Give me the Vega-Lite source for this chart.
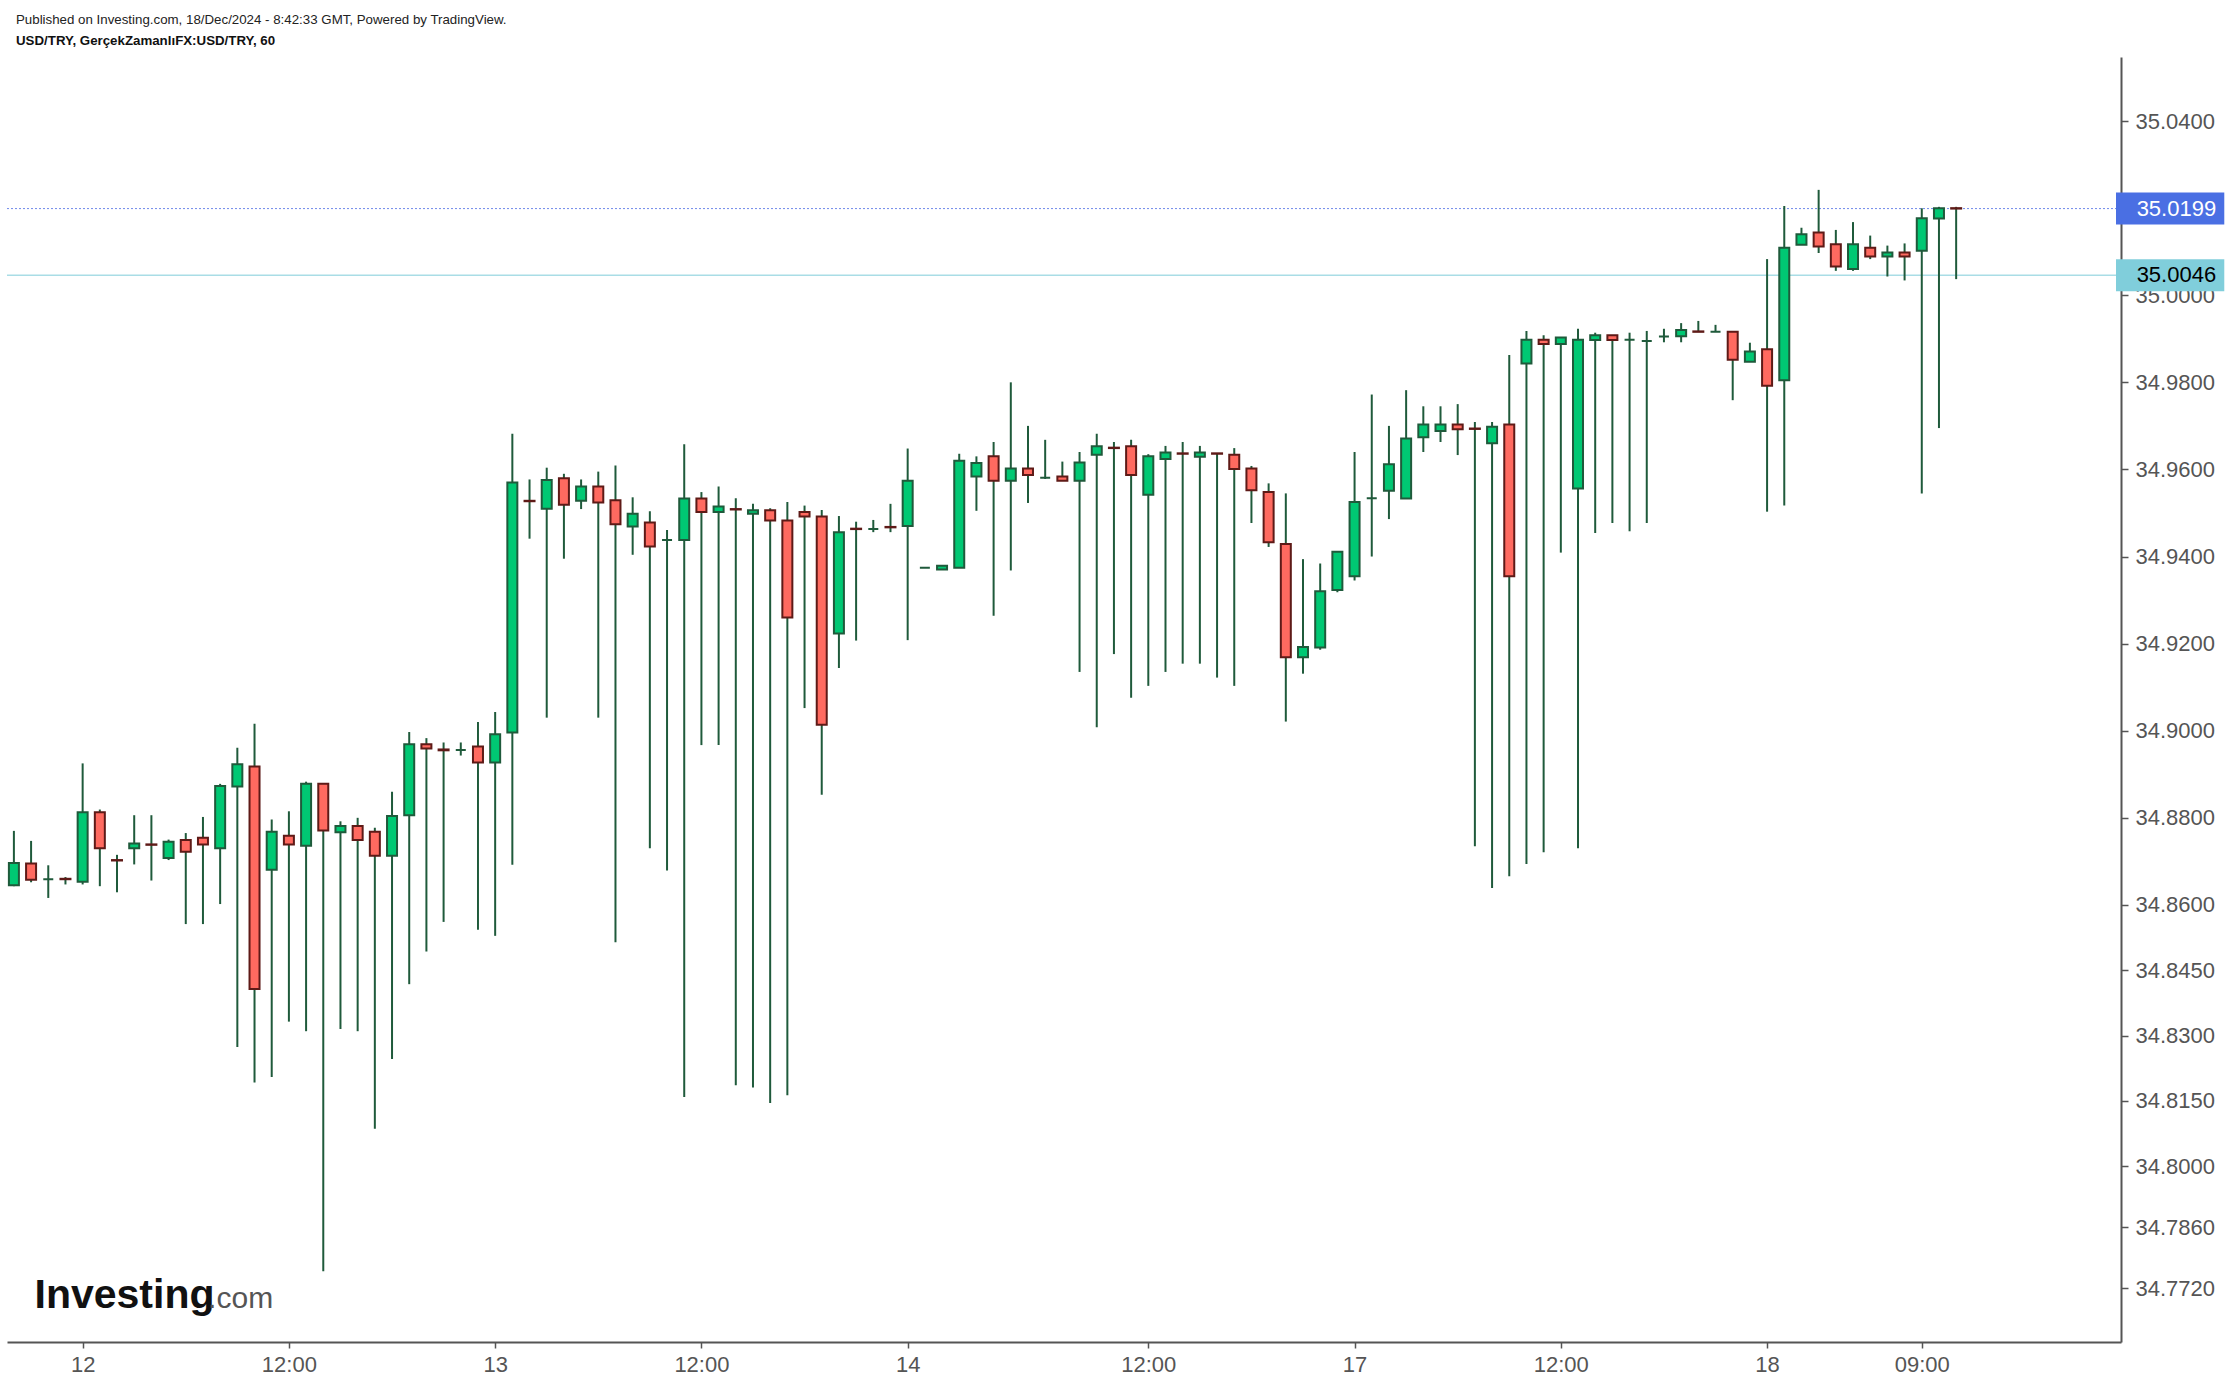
{
  "$schema": "https://vega.github.io/schema/vega-lite/v6.json",
  "width": 2114,
  "height": 1285,
  "autosize": {"type": "none"},
  "padding": {"left": 7, "top": 57, "right": 109, "bottom": 44},
  "background": "white",
  "config": {"view": {"stroke": null}, "font": "Liberation Sans"},
  "title": {
    "text": "Published on Investing.com, 18/Dec/2024 - 8:42:33 GMT, Powered by TradingView.",
    "subtitle": "USD/TRY, GerçekZamanlıFX:USD/TRY, 60",
    "anchor": "start",
    "frame": "group",
    "font": "Liberation Sans",
    "fontSize": 13.3,
    "fontWeight": "normal",
    "color": "#222222",
    "subtitleFont": "Liberation Sans",
    "subtitleFontSize": 13.3,
    "subtitleFontWeight": "bold",
    "subtitleColor": "#111111",
    "subtitlePadding": 7.5,
    "offset": 10,
    "dx": 9
  },
  "datasets": {
    "candles": [
      {"i":0,"o":34.8645,"h":34.8770,"l":34.8643,"c":34.8696},
      {"i":1,"o":34.8695,"h":34.8747,"l":34.8652,"c":34.8658},
      {"i":2,"o":34.8659,"h":34.8691,"l":34.8616,"c":34.8659},
      {"i":3,"o":34.8660,"h":34.8664,"l":34.8647,"c":34.8659},
      {"i":4,"o":34.8653,"h":34.8925,"l":34.8647,"c":34.8813},
      {"i":5,"o":34.8813,"h":34.8819,"l":34.8643,"c":34.8730},
      {"i":6,"o":34.8703,"h":34.8715,"l":34.8629,"c":34.8702},
      {"i":7,"o":34.8730,"h":34.8806,"l":34.8693,"c":34.8741},
      {"i":8,"o":34.8739,"h":34.8806,"l":34.8656,"c":34.8738},
      {"i":9,"o":34.8708,"h":34.8750,"l":34.8703,"c":34.8745},
      {"i":10,"o":34.8749,"h":34.8765,"l":34.8556,"c":34.8722},
      {"i":11,"o":34.8754,"h":34.8802,"l":34.8556,"c":34.8739},
      {"i":12,"o":34.8730,"h":34.8878,"l":34.8602,"c":34.8873},
      {"i":13,"o":34.8872,"h":34.8961,"l":34.8274,"c":34.8923},
      {"i":14,"o":34.8918,"h":34.9016,"l":34.8192,"c":34.8407},
      {"i":15,"o":34.8681,"h":34.8796,"l":34.8205,"c":34.8768},
      {"i":16,"o":34.8759,"h":34.8815,"l":34.8332,"c":34.8739},
      {"i":17,"o":34.8736,"h":34.8883,"l":34.8310,"c":34.8878},
      {"i":18,"o":34.8878,"h":34.8878,"l":34.7759,"c":34.8771},
      {"i":19,"o":34.8767,"h":34.8792,"l":34.8315,"c":34.8781},
      {"i":20,"o":34.8781,"h":34.8800,"l":34.8310,"c":34.8749},
      {"i":21,"o":34.8768,"h":34.8777,"l":34.8086,"c":34.8713},
      {"i":22,"o":34.8713,"h":34.8860,"l":34.8246,"c":34.8804},
      {"i":23,"o":34.8806,"h":34.8997,"l":34.8418,"c":34.8969},
      {"i":24,"o":34.8969,"h":34.8983,"l":34.8493,"c":34.8959},
      {"i":25,"o":34.8957,"h":34.8973,"l":34.8561,"c":34.8955},
      {"i":26,"o":34.8956,"h":34.8973,"l":34.8943,"c":34.8956},
      {"i":27,"o":34.8964,"h":34.9020,"l":34.8543,"c":34.8927},
      {"i":28,"o":34.8927,"h":34.9043,"l":34.8529,"c":34.8992},
      {"i":29,"o":34.8996,"h":34.9682,"l":34.8692,"c":34.9570},
      {"i":30,"o":34.9528,"h":34.9577,"l":34.9441,"c":34.9527},
      {"i":31,"o":34.9510,"h":34.9604,"l":34.9030,"c":34.9576},
      {"i":32,"o":34.9580,"h":34.9590,"l":34.9395,"c":34.9519},
      {"i":33,"o":34.9528,"h":34.9577,"l":34.9509,"c":34.9561},
      {"i":34,"o":34.9561,"h":34.9595,"l":34.9030,"c":34.9524},
      {"i":35,"o":34.9529,"h":34.9609,"l":34.8514,"c":34.9474},
      {"i":36,"o":34.9469,"h":34.9536,"l":34.9404,"c":34.9498},
      {"i":37,"o":34.9478,"h":34.9504,"l":34.8730,"c":34.9423},
      {"i":38,"o":34.9438,"h":34.9461,"l":34.8679,"c":34.9438},
      {"i":39,"o":34.9438,"h":34.9658,"l":34.8159,"c":34.9533},
      {"i":40,"o":34.9533,"h":34.9548,"l":34.8967,"c":34.9502},
      {"i":41,"o":34.9502,"h":34.9561,"l":34.8967,"c":34.9515},
      {"i":42,"o":34.9509,"h":34.9534,"l":34.8186,"c":34.9508},
      {"i":43,"o":34.9498,"h":34.9521,"l":34.8181,"c":34.9506},
      {"i":44,"o":34.9506,"h":34.9511,"l":34.8145,"c":34.9483},
      {"i":45,"o":34.9483,"h":34.9525,"l":34.8163,"c":34.9260},
      {"i":46,"o":34.9502,"h":34.9517,"l":34.9052,"c":34.9492},
      {"i":47,"o":34.9492,"h":34.9507,"l":34.8853,"c":34.9014},
      {"i":48,"o":34.9223,"h":34.9493,"l":34.9144,"c":34.9456},
      {"i":49,"o":34.9464,"h":34.9480,"l":34.9207,"c":34.9463},
      {"i":50,"o":34.9463,"h":34.9484,"l":34.9456,"c":34.9463},
      {"i":51,"o":34.9468,"h":34.9521,"l":34.9456,"c":34.9467},
      {"i":52,"o":34.9470,"h":34.9648,"l":34.9208,"c":34.9574},
      {"i":53,"o":34.9374,"h":34.9374,"l":34.9374,"c":34.9374},
      {"i":54,"o":34.9370,"h":34.9379,"l":34.9370,"c":34.9379},
      {"i":55,"o":34.9374,"h":34.9636,"l":34.9374,"c":34.9620},
      {"i":56,"o":34.9584,"h":34.9630,"l":34.9505,"c":34.9615},
      {"i":57,"o":34.9630,"h":34.9663,"l":34.9264,"c":34.9574},
      {"i":58,"o":34.9574,"h":34.9800,"l":34.9368,"c":34.9602},
      {"i":59,"o":34.9602,"h":34.9700,"l":34.9523,"c":34.9587},
      {"i":60,"o":34.9581,"h":34.9668,"l":34.9578,"c":34.9581},
      {"i":61,"o":34.9584,"h":34.9618,"l":34.9574,"c":34.9574},
      {"i":62,"o":34.9574,"h":34.9640,"l":34.9135,"c":34.9616},
      {"i":63,"o":34.9634,"h":34.9682,"l":34.9008,"c":34.9653},
      {"i":64,"o":34.9650,"h":34.9663,"l":34.9176,"c":34.9649},
      {"i":65,"o":34.9653,"h":34.9668,"l":34.9076,"c":34.9587},
      {"i":66,"o":34.9542,"h":34.9635,"l":34.9103,"c":34.9630},
      {"i":67,"o":34.9624,"h":34.9654,"l":34.9135,"c":34.9639},
      {"i":68,"o":34.9637,"h":34.9663,"l":34.9154,"c":34.9636},
      {"i":69,"o":34.9629,"h":34.9654,"l":34.9154,"c":34.9639},
      {"i":70,"o":34.9637,"h":34.9637,"l":34.9122,"c":34.9636},
      {"i":71,"o":34.9634,"h":34.9649,"l":34.9103,"c":34.9601},
      {"i":72,"o":34.9602,"h":34.9608,"l":34.9477,"c":34.9552},
      {"i":73,"o":34.9548,"h":34.9568,"l":34.9422,"c":34.9433},
      {"i":74,"o":34.9429,"h":34.9545,"l":34.9021,"c":34.9169},
      {"i":75,"o":34.9169,"h":34.9394,"l":34.9131,"c":34.9192},
      {"i":76,"o":34.9191,"h":34.9384,"l":34.9186,"c":34.9320},
      {"i":77,"o":34.9323,"h":34.9411,"l":34.9318,"c":34.9411},
      {"i":78,"o":34.9355,"h":34.9640,"l":34.9345,"c":34.9525},
      {"i":79,"o":34.9534,"h":34.9772,"l":34.9400,"c":34.9534},
      {"i":80,"o":34.9551,"h":34.9700,"l":34.9486,"c":34.9612},
      {"i":81,"o":34.9533,"h":34.9782,"l":34.9533,"c":34.9671},
      {"i":82,"o":34.9674,"h":34.9745,"l":34.9640,"c":34.9703},
      {"i":83,"o":34.9688,"h":34.9745,"l":34.9663,"c":34.9703},
      {"i":84,"o":34.9703,"h":34.9750,"l":34.9633,"c":34.9692},
      {"i":85,"o":34.9694,"h":34.9709,"l":34.8735,"c":34.9693},
      {"i":86,"o":34.9660,"h":34.9709,"l":34.8639,"c":34.9698},
      {"i":87,"o":34.9703,"h":34.9863,"l":34.8666,"c":34.9355},
      {"i":88,"o":34.9843,"h":34.9918,"l":34.8694,"c":34.9898},
      {"i":89,"o":34.9898,"h":34.9908,"l":34.8721,"c":34.9888},
      {"i":90,"o":34.9888,"h":34.9903,"l":34.9409,"c":34.9903},
      {"i":91,"o":34.9556,"h":34.9923,"l":34.8730,"c":34.9898},
      {"i":92,"o":34.9897,"h":34.9914,"l":34.9454,"c":34.9908},
      {"i":93,"o":34.9908,"h":34.9908,"l":34.9477,"c":34.9897},
      {"i":94,"o":34.9898,"h":34.9914,"l":34.9458,"c":34.9898},
      {"i":95,"o":34.9895,"h":34.9918,"l":34.9477,"c":34.9895},
      {"i":96,"o":34.9905,"h":34.9923,"l":34.9892,"c":34.9905},
      {"i":97,"o":34.9906,"h":34.9936,"l":34.9892,"c":34.9920},
      {"i":98,"o":34.9917,"h":34.9941,"l":34.9916,"c":34.9916},
      {"i":99,"o":34.9916,"h":34.9932,"l":34.9916,"c":34.9916},
      {"i":100,"o":34.9916,"h":34.9916,"l":34.9759,"c":34.9852},
      {"i":101,"o":34.9847,"h":34.9891,"l":34.9847,"c":34.9871},
      {"i":102,"o":34.9876,"h":35.0083,"l":34.9503,"c":34.9792},
      {"i":103,"o":34.9805,"h":35.0205,"l":34.9517,"c":35.0109},
      {"i":104,"o":35.0116,"h":35.0155,"l":35.0116,"c":35.0140},
      {"i":105,"o":35.0144,"h":35.0242,"l":35.0097,"c":35.0112},
      {"i":106,"o":35.0117,"h":35.0150,"l":35.0056,"c":35.0066},
      {"i":107,"o":35.0060,"h":35.0168,"l":35.0056,"c":35.0117},
      {"i":108,"o":35.0109,"h":35.0137,"l":35.0083,"c":35.0089},
      {"i":109,"o":35.0089,"h":35.0114,"l":35.0043,"c":35.0098},
      {"i":110,"o":35.0098,"h":35.0119,"l":35.0034,"c":35.0089},
      {"i":111,"o":35.0102,"h":35.0200,"l":34.9545,"c":35.0177},
      {"i":112,"o":35.0176,"h":35.0203,"l":34.9695,"c":35.0200},
      {"i":113,"o":35.0200,"h":35.0203,"l":35.0037,"c":35.0199}
    ],
    "levels": [
      {"p": 35.0199, "kind": "last"},
      {"p": 35.0046, "kind": "prev"}
    ]
  },
  "layer": [
    {
      "data": {"name": "levels"},
      "transform": [{"filter": "datum.kind == 'prev'"}],
      "mark": {"type": "rule", "color": "#a9dde6", "strokeWidth": 1.5},
      "encoding": {
        "y": {"field": "p", "type": "quantitative", "scale": {"domain": [34.76078, 35.05356], "nice": false, "zero": false},
          "axis": {"orient": "right", "values": [35.04, 35.0, 34.98, 34.96, 34.94, 34.92, 34.9, 34.88, 34.86, 34.845, 34.83, 34.815, 34.8, 34.786, 34.772],
            "format": ".4f", "grid": false, "title": null, "domainColor": "#555555", "domainWidth": 2, "tickColor": "#555555", "tickWidth": 1.5, "tickSize": 7,
            "labelFontSize": 22, "labelColor": "#555555", "labelPadding": 7, "labelFlush": false, "labelOverlap": false, "labelFont": "Liberation Sans"}}
      }
    },
    {
      "data": {"name": "levels"},
      "transform": [{"filter": "datum.kind == 'last'"}],
      "mark": {"type": "rule", "color": "#6f89ea", "strokeWidth": 1, "strokeDash": [2, 2]},
      "encoding": {
        "y": {"field": "p", "type": "quantitative", "scale": {"domain": [34.76078, 35.05356], "nice": false, "zero": false}}
      }
    },
    {
      "data": {"name": "candles"},
      "mark": {"type": "rule", "color": "#1f5a3b", "strokeWidth": 2, "clip": true},
      "encoding": {
        "x": {"field": "i", "type": "quantitative", "scale": {"domain": [-0.11, 122.3], "nice": false, "zero": false},
          "axis": {"values": [4, 16, 28, 40, 52, 66, 78, 90, 102, 111],
            "labelExpr": "['12','12:00','13','12:00','14','12:00','17','12:00','18','09:00'][indexof([4,16,28,40,52,66,78,90,102,111], datum.value)]",
            "grid": false, "title": null, "domainColor": "#555555", "domainWidth": 2, "tickColor": "#555555", "tickWidth": 1.5, "tickSize": 6,
            "labelFontSize": 22, "labelColor": "#555555", "labelPadding": 6, "labelFlush": false, "labelOverlap": false, "labelFont": "Liberation Sans"}},
        "y": {"field": "l", "type": "quantitative", "scale": {"domain": [34.76078, 35.05356], "nice": false, "zero": false}},
        "y2": {"field": "h"}
      }
    },
    {
      "data": {"name": "candles"},
      "mark": {"type": "bar", "size": 10, "strokeWidth": 2, "clip": true},
      "encoding": {
        "x": {"field": "i", "type": "quantitative", "scale": {"domain": [-0.11, 122.3], "nice": false, "zero": false}},
        "y": {"field": "o", "type": "quantitative", "scale": {"domain": [34.76078, 35.05356], "nice": false, "zero": false}},
        "y2": {"field": "c"},
        "fill": {"condition": {"test": "datum.c >= datum.o", "value": "#00c873"}, "value": "#ff6a60"},
        "stroke": {"condition": {"test": "datum.c >= datum.o", "value": "#1f5a3b"}, "value": "#5e1a17"}
      }
    },
    {
      "data": {"name": "levels"},
      "mark": {"type": "bar", "orient": "horizontal", "size": 32},
      "encoding": {
        "x": {"datum": 122.3, "type": "quantitative", "scale": {"domain": [-0.11, 122.3], "nice": false, "zero": false}},
        "x2": {"datum": 128.6},
        "y": {"field": "p", "type": "quantitative", "scale": {"domain": [34.76078, 35.05356], "nice": false, "zero": false}},
        "fill": {"condition": {"test": "datum.kind == 'last'", "value": "#4a6fe3"}, "value": "#80cedb"}
      }
    },
    {
      "data": {"name": "levels"},
      "mark": {"type": "text", "align": "left", "baseline": "middle", "fontSize": 22, "font": "Liberation Sans"},
      "encoding": {
        "x": {"datum": 123.5, "type": "quantitative", "scale": {"domain": [-0.11, 122.3], "nice": false, "zero": false}},
        "y": {"field": "p", "type": "quantitative", "scale": {"domain": [34.76078, 35.05356], "nice": false, "zero": false}},
        "text": {"field": "p", "type": "quantitative", "format": ".4f"},
        "fill": {"condition": {"test": "datum.kind == 'last'", "value": "#ffffff"}, "value": "#000000"}
      }
    },
    {
      "data": {"values": [{}]},
      "mark": {"type": "text", "align": "left", "baseline": "alphabetic", "fontSize": 41, "fontWeight": "bold", "font": "Liberation Sans", "color": "#111111"},
      "encoding": {
        "x": {"datum": 1.2, "type": "quantitative", "scale": {"domain": [-0.11, 122.3], "nice": false, "zero": false}},
        "y": {"datum": 34.7674, "type": "quantitative", "scale": {"domain": [34.76078, 35.05356], "nice": false, "zero": false}},
        "text": {"value": "Investing"}
      }
    },
    {
      "data": {"values": [{}]},
      "mark": {"type": "text", "align": "left", "baseline": "alphabetic", "fontSize": 30, "font": "Liberation Sans", "color": "#555555"},
      "encoding": {
        "x": {"datum": 11.3, "type": "quantitative", "scale": {"domain": [-0.11, 122.3], "nice": false, "zero": false}},
        "y": {"datum": 34.7674, "type": "quantitative", "scale": {"domain": [34.76078, 35.05356], "nice": false, "zero": false}},
        "text": {"value": ".com"}
      }
    }
  ]
}
